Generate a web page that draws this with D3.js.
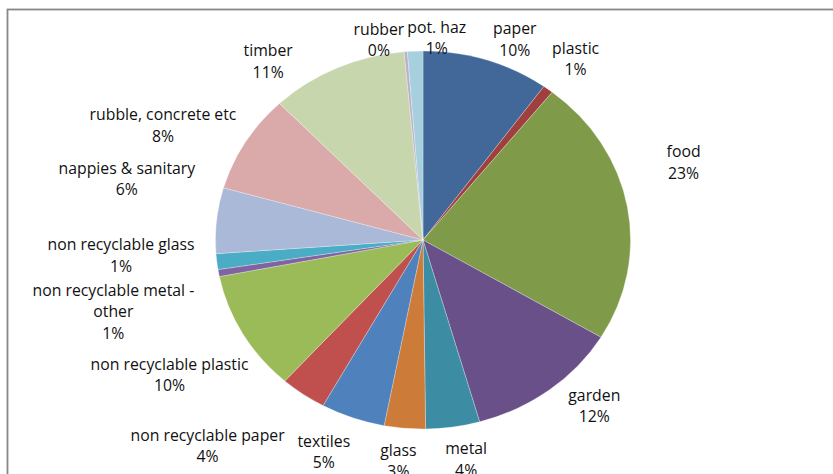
<!DOCTYPE html>
<html>
<head>
<meta charset="utf-8">
<script src="https://cdn.jsdelivr.net/npm/d3@7"></script>
<style>
  html, body { margin: 0; padding: 0; background: #fff; }
  svg { display: block; }
  text { font-family: "Open Sans", sans-serif; font-size: 15.8px; fill: #111; }
</style>
</head>
<body>
<svg id="chart" width="833" height="474"></svg>
<script>
// ---- data ----
const categories = [
  "paper", "plastic", "food", "garden", "metal", "glass", "textiles",
  "non recyclable paper", "non recyclable plastic", "non recyclable metal - other",
  "non recyclable glass", "nappies & sanitary", "rubble, concrete etc",
  "timber", "rubber", "pot. haz"
];
const values = [9.9, 0.8, 22.9, 12.0, 4.2, 3.2, 5.0, 3.6, 10.3, 0.6, 1.35, 5.6, 8.4, 10.7, 0.25, 1.2];

// ---- style ----
const colors = [
  "#42689A", "#A0403E", "#7F9A48", "#6A5088", "#3C8DA3", "#CD7B38", "#4F81BD",
  "#C0504D", "#9BBB59", "#8064A2", "#4BACC6", "#AAB9D7", "#D9AAA9",
  "#C8D6AD", "#BCAFCB", "#A7D0DF"
];
// label placement adjustments (px) relative to the default outside-end position
const labelNudge = [
  [19, 7], [8, -7], [31, -39], [24, -8], [9, 3], [-4, 3], [-17, 6],
  [-46, 27], [3, 26], [-17, 31], [-14, -10], [-13, -39], [-12, -2],
  [-55, 20], [-24, 17], [23, 16]
];

// ---- layout ----
const W = 833, H = 474;
const cx = 423, cy = 240, R = 189, sx = 1.098;
const gap = 8, lineH = 21.5, wrapWidth = 172;

const svg = d3.select("#chart");

// frame
svg.append("rect")
  .attr("x", 7.5).attr("y", 9.5)
  .attr("width", W + 20).attr("height", H + 20)
  .attr("fill", "none").attr("stroke", "#878787").attr("stroke-width", 1.8);

const pie = d3.pie().sort(null).value(d => d);
const arcs = pie(values);
const arc = d3.arc().innerRadius(0).outerRadius(R);

const g = svg.append("g").attr("transform", `translate(${cx},${cy}) scale(${sx},1)`);
g.selectAll("path").data(arcs).join("path")
  .attr("d", arc)
  .attr("fill", (d, i) => colors[i])
  .attr("stroke", "rgba(255,255,255,0.45)")
  .attr("stroke-width", 0.6)
  .attr("vector-effect", "non-scaling-stroke");

const pct = d3.format(".0%");
const total = d3.sum(values);

const labels = svg.append("g");
arcs.forEach((d, i) => {
  const t = labels.append("text").attr("text-anchor", "middle");
  // wrap category name
  const words = categories[i].split(" ");
  const lines = [];
  let cur = "";
  const probe = labels.append("text");
  words.forEach(w => {
    const test = cur ? cur + " " + w : w;
    probe.text(test);
    if (cur && probe.node().getComputedTextLength() > wrapWidth) {
      lines.push(cur); cur = w;
    } else cur = test;
  });
  lines.push(cur);
  probe.remove();
  lines.push(pct(values[i] / total));

  const tsp = lines.map(l => t.append("tspan").attr("x", 0).text(l));
  const w = d3.max(tsp, s => s.node().getComputedTextLength());
  const h = lines.length * lineH;
  const mid = (d.startAngle + d.endAngle) / 2;
  const s = Math.sin(mid), c = Math.cos(mid);
  const x = cx + s * (sx * (R + gap) + w / 2) + labelNudge[i][0];
  const y = cy - c * (R + gap + h / 2) + labelNudge[i][1];
  tsp.forEach((sp, k) => {
    sp.attr("x", x).attr("y", y + (k - (lines.length - 1) / 2) * lineH)
      .attr("dominant-baseline", "central");
  });
});
</script>
</body>
</html>
